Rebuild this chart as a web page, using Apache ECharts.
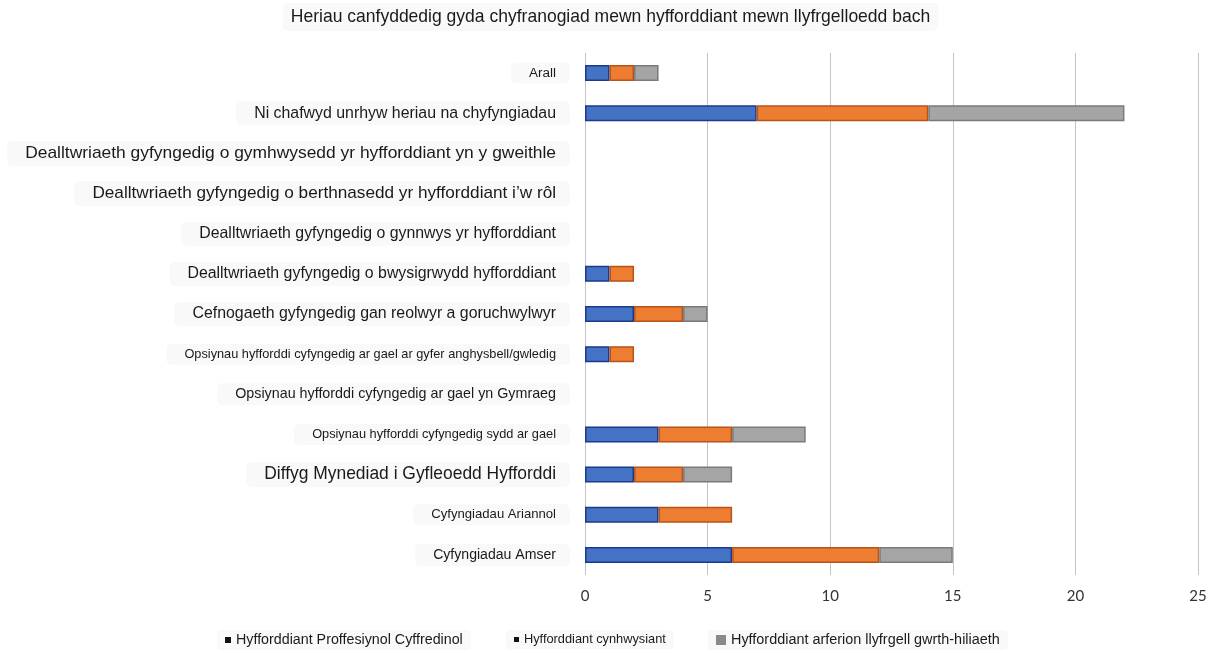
<!DOCTYPE html>
<html>
<head>
<meta charset="utf-8">
<script src="https://cdn.jsdelivr.net/npm/echarts@6/dist/echarts.min.js"></script>
<style>html,body{margin:0;padding:0;background:#fff;}#c{width:1221px;height:653px;}</style>
</head>
<body>
<div id="c"></div>
<script>
const titleText = 'Heriau canfyddedig gyda chyfranogiad mewn hyfforddiant mewn llyfrgelloedd bach';
const categories = [
  'Arall',
  'Ni chafwyd unrhyw heriau na chyfyngiadau',
  'Dealltwriaeth gyfyngedig o gymhwysedd yr hyfforddiant yn y gweithle',
  'Dealltwriaeth gyfyngedig o berthnasedd yr hyfforddiant i\u2019w rôl',
  'Dealltwriaeth gyfyngedig o gynnwys yr hyfforddiant',
  'Dealltwriaeth gyfyngedig o bwysigrwydd hyfforddiant',
  'Cefnogaeth gyfyngedig gan reolwyr a goruchwylwyr',
  'Opsiynau hyfforddi cyfyngedig ar gael ar gyfer anghysbell/gwledig',
  'Opsiynau hyfforddi cyfyngedig ar gael yn Gymraeg',
  'Opsiynau hyfforddi cyfyngedig sydd ar gael',
  'Diffyg Mynediad i Gyfleoedd Hyfforddi',
  'Cyfyngiadau Ariannol',
  'Cyfyngiadau Amser'
];
const seriesNames = [
  'Hyfforddiant Proffesiynol Cyffredinol',
  'Hyfforddiant cynhwysiant',
  'Hyfforddiant arferion llyfrgell gwrth-hiliaeth'
];
const proffesiynol = [1, 7, 0, 0, 0, 1, 2, 1, 0, 3, 2, 3, 6];
const cynhwysiant  = [1, 7, 0, 0, 0, 1, 2, 1, 0, 3, 2, 3, 6];
const gwrthHiliaeth = [1, 8, 0, 0, 0, 0, 1, 0, 0, 3, 2, 0, 3];
const xTicks = [0, 5, 10, 15, 20, 25];

// styling: target text widths (px) for each label, as in the reference
const labelWidths = [27, 302, 531, 464, 357, 369, 364, 372, 321, 244, 292, 125, 123];
const FONT = '"Liberation Sans", Arial, sans-serif';
const cv = document.createElement('canvas').getContext('2d');
function fitSize(text, w) {
  cv.font = '20px ' + FONT;
  return Math.max(8, 20 * w / cv.measureText(text).width);
}

const rich = {};
categories.forEach((c, i) => {
  rich['s' + i] = {
    fontSize: fitSize(c, labelWidths[i]),
    fontFamily: FONT,
    color: '#1a1a1a',
    backgroundColor: '#f9f9f9',
    borderRadius: 5,
    padding: [4, 14, 4, 18]
  };
});

const colors = ['#4472C4', '#ED7D31', '#A5A5A5'];
const borders = ['#1c3a8c', '#b8531a', '#7a7a7a'];
const values = [proffesiynol, cynhwysiant, gwrthHiliaeth];

const chart = echarts.init(document.getElementById('c'));
const legendCfg = [
  {left: 217, icon: 'rect', w: 6, h: 6, color: '#111', tw: 227},
  {left: 506, icon: 'rect', w: 5, h: 5, color: '#111', tw: 142},
  {left: 708, icon: 'rect', w: 10, h: 10, color: '#8a8a8a', tw: 269}
];
chart.setOption({
  animation: false,
  title: {
    text: titleText,
    left: 'center',
    top: 3,
    padding: [5, 8],
    backgroundColor: '#f9f9f9',
    borderRadius: 5,
    textStyle: {fontFamily: FONT, fontWeight: 'normal', color: '#1a1a1a', fontSize: fitSize(titleText, 640)}
  },
  legend: legendCfg.map((l, i) => ({
    left: l.left,
    top: 630,
    padding: [3, 8],
    backgroundColor: '#f9f9f9',
    borderRadius: 4,
    selectedMode: false,
    itemWidth: l.w,
    itemHeight: l.h,
    icon: l.icon,
    data: [{name: seriesNames[i], itemStyle: {color: l.color, borderWidth: 0}}],
    textStyle: {fontFamily: FONT, color: '#1a1a1a', fontSize: fitSize(seriesNames[i], l.tw)}
  })),
  grid: {left: 585, right: 23, top: 53, bottom: 78},
  xAxis: {
    type: 'value',
    min: 0, max: 25, interval: 5,
    axisLine: {show: false},
    axisTick: {show: false},
    splitLine: {lineStyle: {color: '#c4c4c4', width: 1}},
    axisLabel: {
      margin: 14,
      fontSize: 15,
      fontFamily: 'Lato, "Open Sans", sans-serif',
      color: '#333',
      formatter: v => xTicks.includes(v) ? String(v) : ''
    }
  },
  yAxis: {
    type: 'category',
    inverse: true,
    data: categories,
    axisLine: {show: false},
    axisTick: {show: false},
    axisLabel: {
      margin: 15,
      formatter: (v, i) => '{s' + i + '|' + v + '}',
      rich: rich
    }
  },
  series: values.map((vals, i) => ({
    name: seriesNames[i],
    type: 'bar',
    stack: 'total',
    barWidth: 16,
    data: vals.map(v => (v === 0 ? '-' : v)),
    itemStyle: {color: colors[i], borderColor: borders[i], borderWidth: 1.5}
  }))
});
</script>
</body>
</html>
